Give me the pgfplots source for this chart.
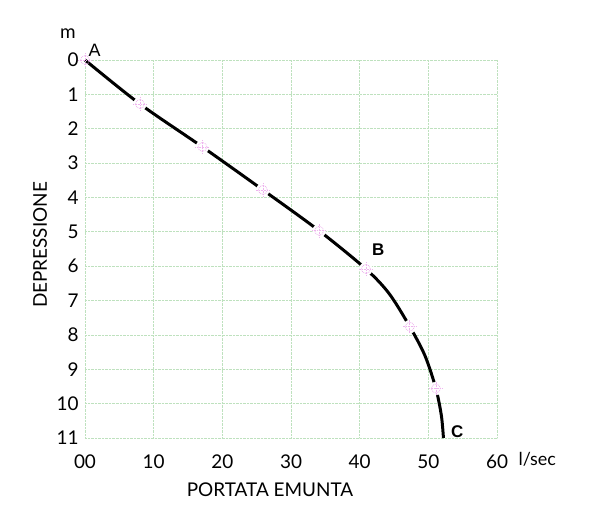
\documentclass[border=0pt]{standalone}
\usepackage{fontspec}
\setmainfont{Lato}
\newfontfamily\boldsans{Liberation Sans}
\usepackage{pgfplots}
\pgfplotsset{compat=1.18}
\usetikzlibrary{calc}

\definecolor{gridc}{RGB}{190,225,190}
\definecolor{markc}{RGB}{238,180,238}

\begin{document}
\begin{tikzpicture}
\begin{axis}[
    name=ax,
    scale only axis,
    width=412bp, height=378bp,
    xmin=0, xmax=60, ymin=0, ymax=11,
    y dir=reverse,
    axis line style={draw=none},
    xtick={0,10,...,60},
    xticklabels={00,10,20,30,40,50,60},
    ytick={0,1,...,11},
    grid=major,
    major grid style={gridc, densely dotted, line width=0.7pt},
    tick style={draw=none},
    ticklabel style={font=\fontsize{19}{21}\selectfont},
    /pgf/number format/assume math mode=true,
    xticklabel style={yshift=-13bp},
    yticklabel style={xshift=-3bp},
    clip=false,
]
\addplot[black, line width=3pt, smooth, tension=0.5] coordinates {
    (0,0) (8,1.28) (17.1,2.53) (25.9,3.78) (34.1,4.97) (40.9,6.08)
    (44.3,6.8) (47.3,7.76) (49.5,8.6) (51.1,9.56) (51.9,10.35) (52.2,11)
};
\addplot[only marks, mark=*, mark size=6.5pt, draw=white, fill=white] coordinates {
    (8,1.28) (17.1,2.53) (25.9,3.78) (34.1,4.97) (40.9,6.08)
    (47.3,7.76) (51.1,9.56)
};
\addplot[only marks, mark=o, mark size=4.5pt, markc, mark options={line width=0.8pt, densely dotted}] coordinates {
    (0,0) (8,1.28) (17.1,2.53) (25.9,3.78) (34.1,4.97) (40.9,6.08)
    (47.3,7.76) (51.1,9.56)
};
\addplot[only marks, mark=+, mark size=7pt, markc, mark options={line width=0.6pt, densely dotted}] coordinates {
    (0,0) (8,1.28) (17.1,2.53) (25.9,3.78) (34.1,4.97) (40.9,6.08)
    (47.3,7.76) (51.1,9.56)
};
\node[font=\boldsans\fontsize{18}{20}\selectfont, anchor=south west, inner sep=0pt] at (axis cs:0.5,-0.1) {A};
\node[font=\boldsans\bfseries\fontsize{17}{19}\selectfont, anchor=south west, inner sep=0pt] at (axis cs:41.8,5.7) {B};
\node[font=\boldsans\bfseries\fontsize{17}{19}\selectfont, anchor=south west, inner sep=0pt] at (axis cs:53.3,11.0) {C};
\end{axis}
\path[use as bounding box] ($(ax.south west)+(-85bp,-86bp)$) rectangle ++(600bp,524bp);
\node[font=\fontsize{19}{21}\selectfont] at ($(ax.north west)+(-17bp,26bp)$) {m};
\node[font=\fontsize{18}{20}\selectfont, anchor=west] at ($(ax.south east)+(18bp,-21bp)$) {l/sec};
\node[font=\fontsize{19}{21}\selectfont] at ($(ax.south west)+(185bp,-52bp)$) {PORTATA EMUNTA};
\node[font=\fontsize{19}{21}\selectfont, rotate=90] at ($(ax.north west)+(-45bp,-185bp)$) {DEPRESSIONE};
\end{tikzpicture}
\end{document}
